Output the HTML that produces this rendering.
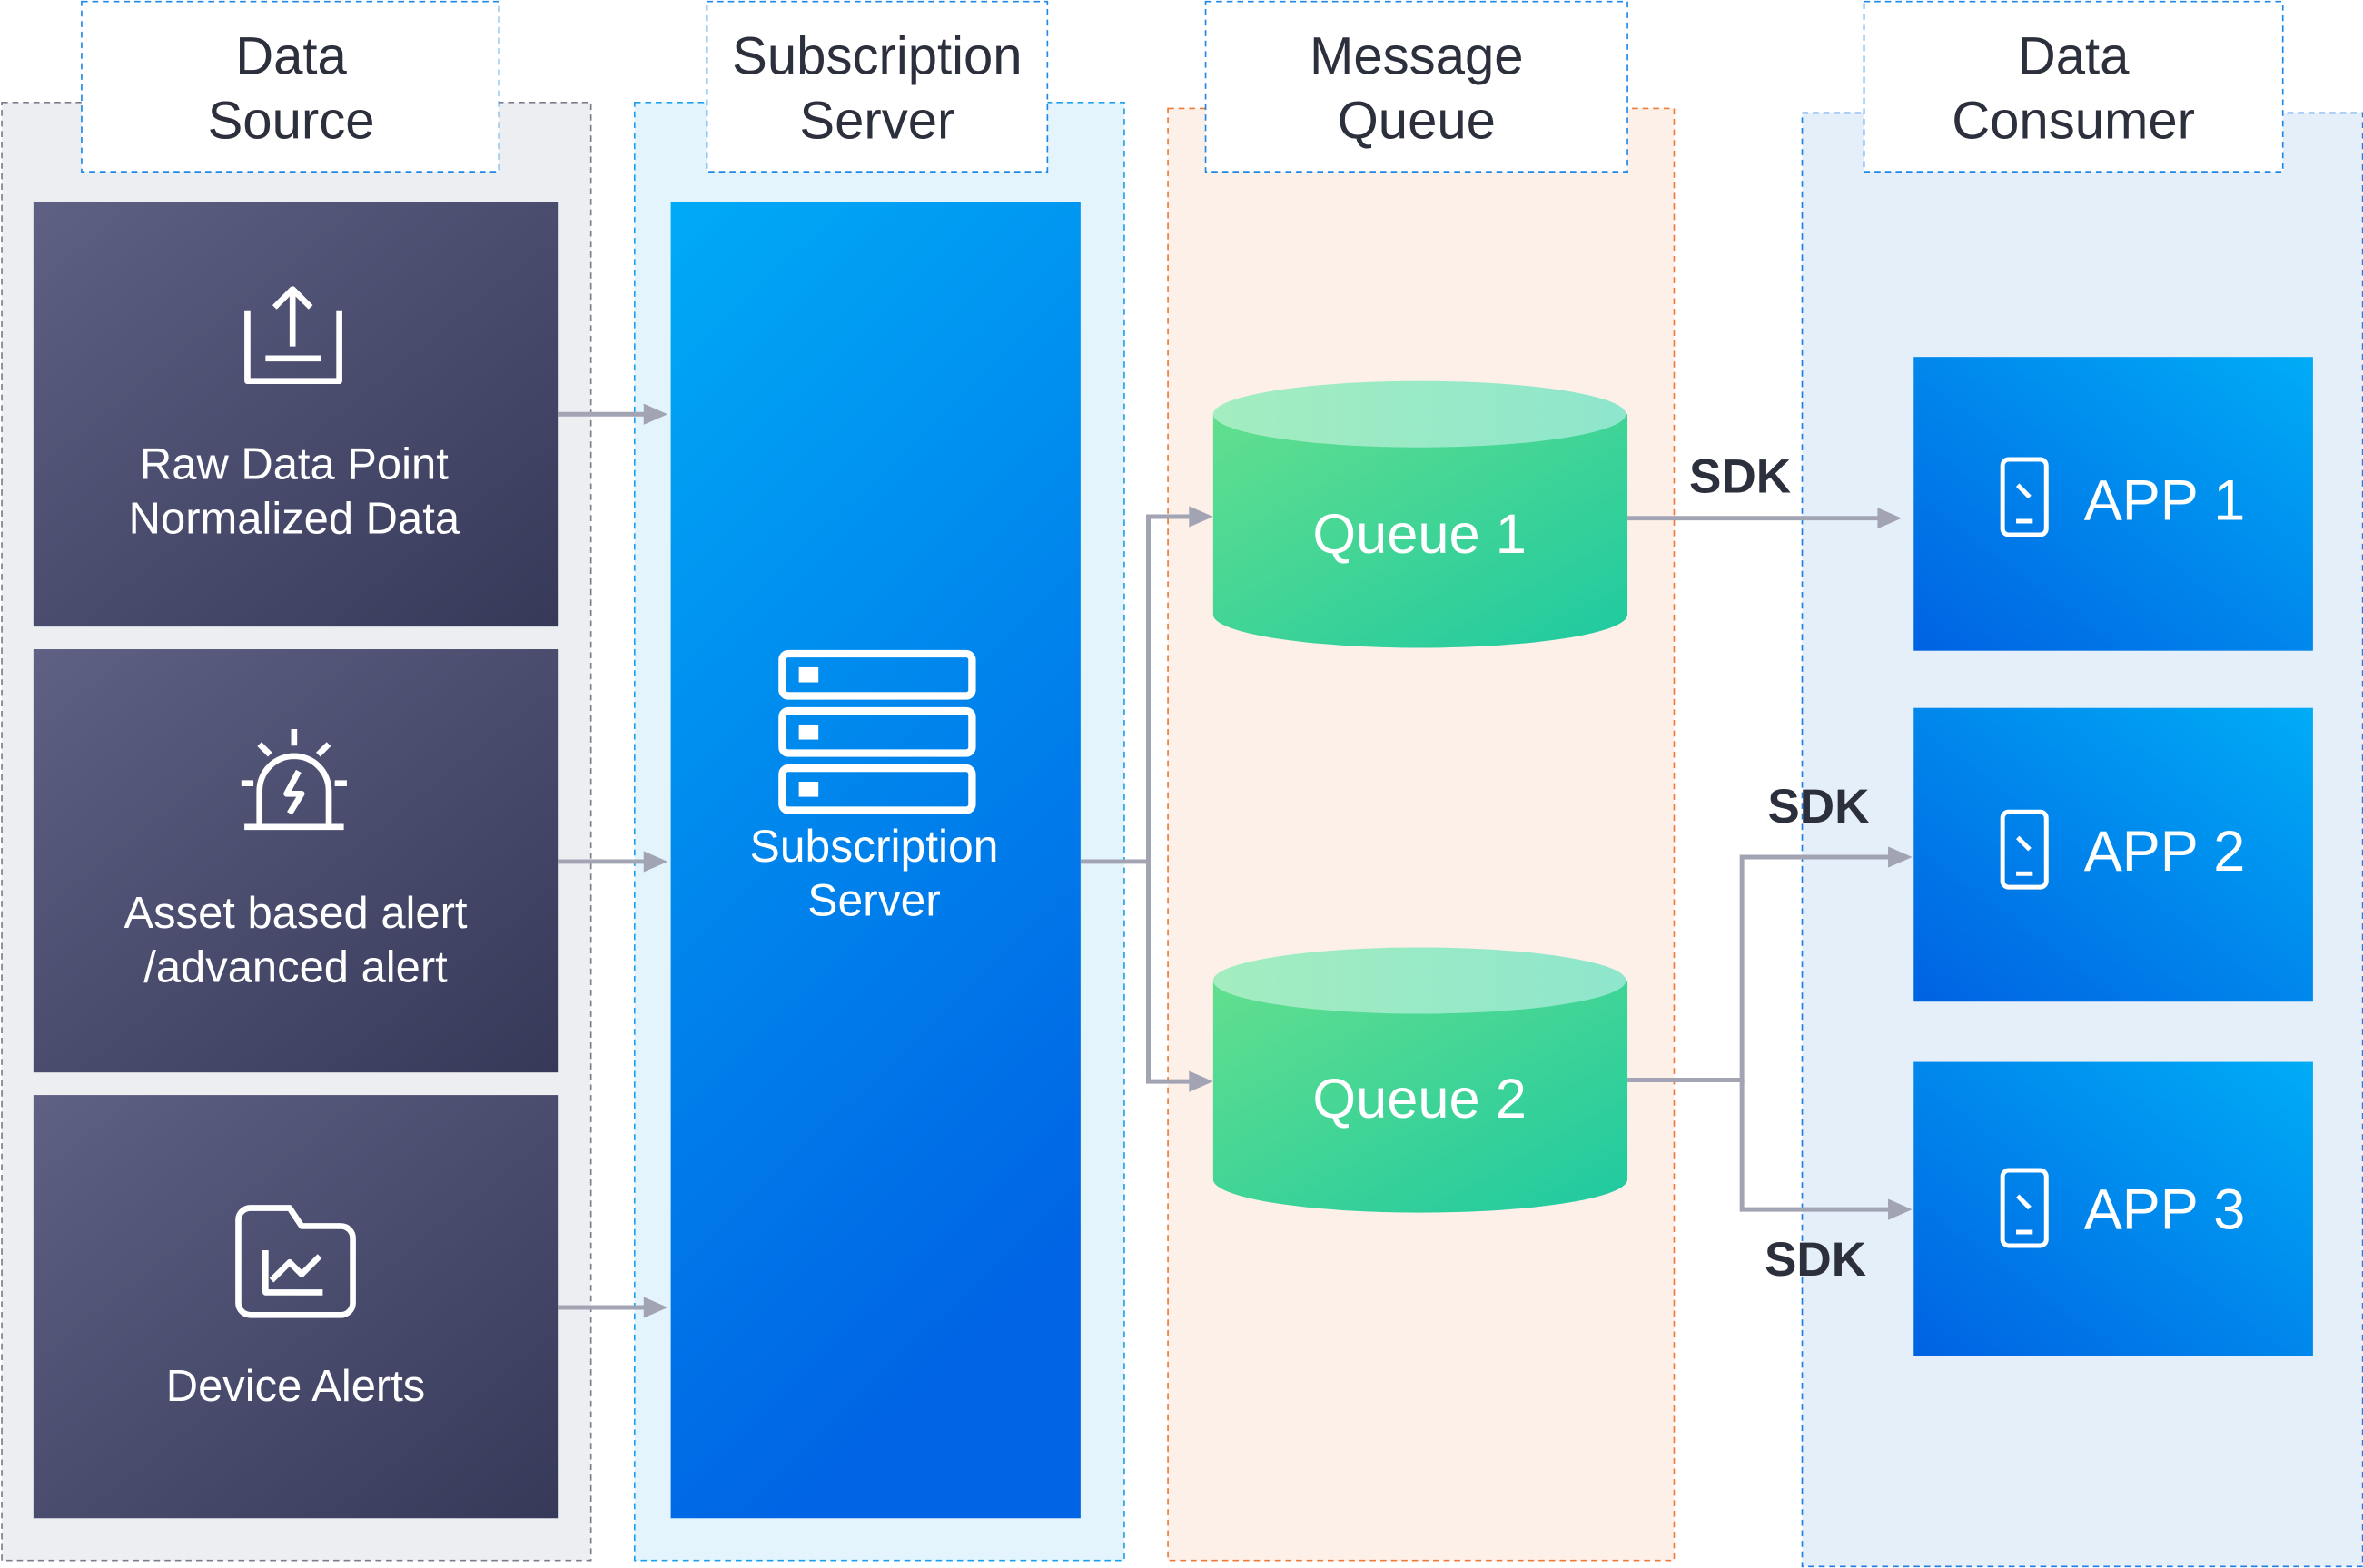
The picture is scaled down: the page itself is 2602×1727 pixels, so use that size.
<!DOCTYPE html>
<html><head><meta charset="utf-8"><style>
html,body{margin:0;padding:0;background:#fff;}
svg{display:block;}
text{font-family:"Liberation Sans",Arial,sans-serif;}
</style></head><body>
<svg width="2602" height="1727" viewBox="0 0 1568 1041" xmlns="http://www.w3.org/2000/svg">
<defs>
<linearGradient id="dk" x1="0" y1="0" x2="1" y2="1"><stop offset="0" stop-color="#5e6084"/><stop offset="1" stop-color="#363958"/></linearGradient>
<linearGradient id="bl" x1="0" y1="0" x2="0.3" y2="1"><stop offset="0" stop-color="#00aaf6"/><stop offset="1" stop-color="#0064e4"/></linearGradient>
<linearGradient id="ap" x1="1" y1="0" x2="0" y2="1"><stop offset="0" stop-color="#00acf6"/><stop offset="1" stop-color="#0062e2"/></linearGradient>
<linearGradient id="gr" x1="0" y1="0" x2="1" y2="1"><stop offset="0" stop-color="#62df8e"/><stop offset="1" stop-color="#1ec9a0"/></linearGradient>
<linearGradient id="gt" x1="0" y1="0" x2="1" y2="0"><stop offset="0" stop-color="#a4edc0"/><stop offset="1" stop-color="#8ee6cc"/></linearGradient>
</defs>
<rect x="1" y="68" width="391" height="968" fill="#eceef2" stroke="#7b7f8c" stroke-dasharray="4,3"/>
<rect x="421" y="68" width="325" height="968" fill="#e3f4fc" stroke="#1ea0f0" stroke-dasharray="4,3"/>
<rect x="775" y="72" width="336" height="964" fill="#fcf0e8" stroke="#ef7a3a" stroke-dasharray="4,3"/>
<rect x="1196" y="75" width="372" height="965" fill="#e4effa" stroke="#1e7ee8" stroke-dasharray="4,3"/>
<g fill="#fff" stroke="#1e88e8" stroke-dasharray="4,3">
<rect x="54" y="1" width="277" height="113"/><rect x="469" y="1" width="226" height="113"/>
<rect x="800" y="1" width="280" height="113"/><rect x="1237" y="1" width="278" height="113"/>
</g>
<g font-size="35" fill="#2c2f3c" text-anchor="middle">
<text x="193" y="49">Data</text><text x="193" y="92">Source</text>
<text x="582" y="49">Subscription</text><text x="582" y="92">Server</text>
<text x="940" y="49">Message</text><text x="940" y="92">Queue</text>
<text x="1376" y="49">Data</text><text x="1376" y="92">Consumer</text>
</g>
<rect x="22" y="134" width="348" height="282" fill="url(#dk)"/>
<rect x="22" y="431" width="348" height="281" fill="url(#dk)"/>
<rect x="22" y="727" width="348" height="281" fill="url(#dk)"/>
<g fill="none" stroke="#fff" stroke-width="4" stroke-linejoin="round">
<path d="M164,206 V253 H225 V206"/><path d="M176,238 H213"/><path d="M194,230 V192 M182,204 L194,192 L206,204"/>
<path d="M172,548 V525 A23,23 0 0 1 218,525 V548"/><path d="M162,549 H228"/><path d="M198,512 L190,527 H200 L192,540"/>
<path d="M195,484 V495 M172,494 L179,501 M218,494 L211,501 M160,520 H168 M222,520 H230"/>
<path d="M158,810 V865 A8,8 0 0 0 166,873 H226 A8,8 0 0 0 234,865 V822 A8,8 0 0 0 226,814 H200 L192,802 H166 A8,8 0 0 0 158,810Z"/>
<path d="M176,830 V858 H214 M180,850 L192,838 L200,846 L212,834"/>
</g>
<g font-size="29.5" fill="#fff" text-anchor="middle">
<text x="195" y="318">Raw Data Point</text><text x="195" y="354">Normalized Data</text>
<text x="196" y="616">Asset based alert</text><text x="196" y="652">/advanced alert</text>
<text x="196" y="930">Device Alerts</text>
</g>
<rect x="445" y="134" width="272" height="874" fill="url(#bl)"/>
<g fill="none" stroke="#fff" stroke-width="5">
<rect x="519" y="434" width="126" height="28" rx="4"/><rect x="519" y="472" width="126" height="28" rx="4"/><rect x="519" y="510" width="126" height="28" rx="4"/>
</g>
<g fill="#fff"><rect x="530" y="443" width="13" height="10"/><rect x="530" y="481" width="13" height="10"/><rect x="530" y="519" width="13" height="10"/></g>
<g font-size="30" fill="#fff" text-anchor="middle"><text x="580" y="572">Subscription</text><text x="580" y="608">Server</text></g>
<g stroke="#a2a4b4" stroke-width="3" fill="none">
<path d="M370,275 H428"/><path d="M370,572 H428"/><path d="M370,868 H428"/>
<path d="M717,572 H762 V343 H790"/><path d="M762,572 V718 H790"/>
<path d="M1080,344 H1247"/><path d="M1080,717 H1156 V569 H1254"/><path d="M1156,717 V803 H1254"/>
</g>
<g fill="#a2a4b4">
<path d="M427,268 L443,275 L427,282z"/><path d="M427,565 L443,572 L427,579z"/><path d="M427,861 L443,868 L427,875z"/>
<path d="M789,336 L805,343 L789,350z"/><path d="M789,711 L805,718 L789,725z"/>
<path d="M1246,337 L1262,344 L1246,351z"/><path d="M1253,562 L1269,569 L1253,576z"/><path d="M1253,796 L1269,803 L1253,810z"/>
</g>
<path d="M805,275 V408 A137,22 0 0 0 1080,408 V275Z" fill="url(#gr)"/>
<ellipse cx="942" cy="275" rx="137" ry="22" fill="url(#gt)"/>
<path d="M805,651 V783 A137,22 0 0 0 1080,783 V651Z" fill="url(#gr)"/>
<ellipse cx="942" cy="651" rx="137" ry="22" fill="url(#gt)"/>
<g font-size="37" fill="#fff" text-anchor="middle"><text x="942" y="367">Queue 1</text><text x="942" y="742">Queue 2</text></g>
<g font-size="32" font-weight="bold" fill="#2c2f3c"><text x="1121" y="327">SDK</text><text x="1173" y="546">SDK</text><text x="1171" y="847">SDK</text></g>
<rect x="1270" y="237" width="265" height="195" fill="url(#ap)"/>
<rect x="1270" y="470" width="265" height="195" fill="url(#ap)"/>
<rect x="1270" y="705" width="265" height="195" fill="url(#ap)"/>
<g fill="none" stroke="#fff" stroke-width="3">
<rect x="1329" y="305" width="29" height="50" rx="4"/><rect x="1329" y="539" width="29" height="50" rx="4"/><rect x="1329" y="777" width="29" height="50" rx="4"/>
<path d="M1338,346 H1349 M1338,580 H1349 M1338,818 H1349 M1339,322 L1347,330 M1339,556 L1347,564 M1339,794 L1347,802"/>
</g>
<g font-size="38" fill="#fff"><text x="1383" y="345">APP 1</text><text x="1383" y="578">APP 2</text><text x="1383" y="816">APP 3</text></g>
</svg>
</body></html>
